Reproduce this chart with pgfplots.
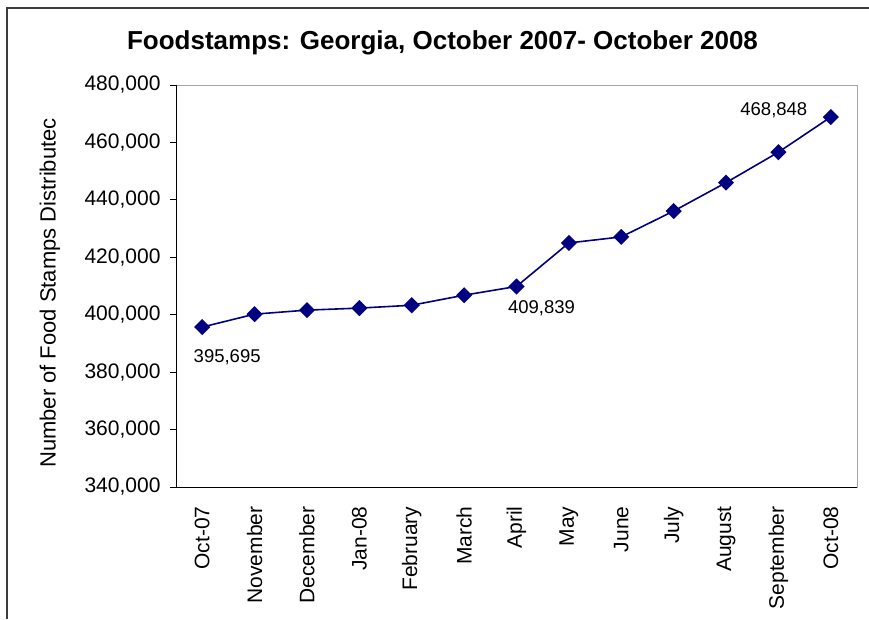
\documentclass[border=0pt]{standalone}
\usepackage{pgfplots}
\pgfplotsset{compat=1.18}
\usepackage{fontspec}
\setmainfont{Liberation Sans}
\definecolor{navyline}{RGB}{0,0,128}
\definecolor{framegray}{RGB}{60,60,60}
\begin{document}
\begin{tikzpicture}
\begin{axis}[
  at={(176pt,132pt)}, anchor=south west,
  scale only axis, width=681pt, height=402pt,
  xmin=-0.5, xmax=12.5, ymin=340000, ymax=480000,
  axis line style={draw=gray!70, line width=1pt},
  xtick={0,...,12},
  xticklabels={Oct-07,November,December,Jan-08,February,March,April,May,June,July,August,September,Oct-08},
  major x tick style={draw=none},
  extra x ticks={-0.5,0.5,...,12.5},
  extra x tick labels={},
  extra x tick style={major tick length=6pt, tick align=outside, tick style={black, line width=1pt}},
  xtick pos=bottom, ytick pos=left,
  ytick={340000,360000,...,480000},
  yticklabels={{340,000},{360,000},{380,000},{400,000},{420,000},{440,000},{460,000},{480,000}},
  ytick style={black, line width=1pt},
  tick align=outside, major tick length=6pt,
  scaled y ticks=false,
  tick label style={font=\fontsize{21}{25}\selectfont},
  xticklabel style={rotate=90, anchor=east, xshift=-10pt},
  yticklabel style={xshift=-6pt},
  clip=false,
]
\addplot[color=navyline, line width=1.6pt, mark=square*, mark size=4.9pt, mark options={rotate=45, fill=navyline, draw=navyline}]
coordinates {
(0,395695) (1,400200) (2,401600) (3,402300) (4,403300) (5,406800) (6,409839)
(7,425000) (8,427100) (9,436100) (10,446000) (11,456600) (12,468848)
};
\draw[black, line width=1pt] (rel axis cs:0,1) -- (rel axis cs:0,0) -- (rel axis cs:1,0);
\node[anchor=north west, font=\fontsize{18.5}{21}\selectfont, xshift=-12pt, yshift=-19pt] at (axis cs:0,395695) {395,695};
\node[anchor=north west, font=\fontsize{18.5}{21}\selectfont, xshift=-12pt, yshift=-11pt] at (axis cs:6,409839) {409,839};
\node[anchor=south east, font=\fontsize{18.5}{21}\selectfont, xshift=-20pt, yshift=-4pt] at (axis cs:12,468848) {468,848};
\end{axis}
\draw[framegray, line width=2pt] (6.5pt,0pt) -- (6.5pt,610.5pt) -- (869pt,610.5pt);
\node[font=\bfseries\fontsize{26}{30}\selectfont] at (442.5pt,576pt) {Foodstamps: Georgia, October 2007- October 2008};
\node[rotate=90, font=\fontsize{22}{26}\selectfont] at (50pt,326pt) {Number of Food Stamps Distributec};
\pgfresetboundingbox
\useasboundingbox (0pt,0pt) rectangle (869pt,619pt);
\end{tikzpicture}
\end{document}
